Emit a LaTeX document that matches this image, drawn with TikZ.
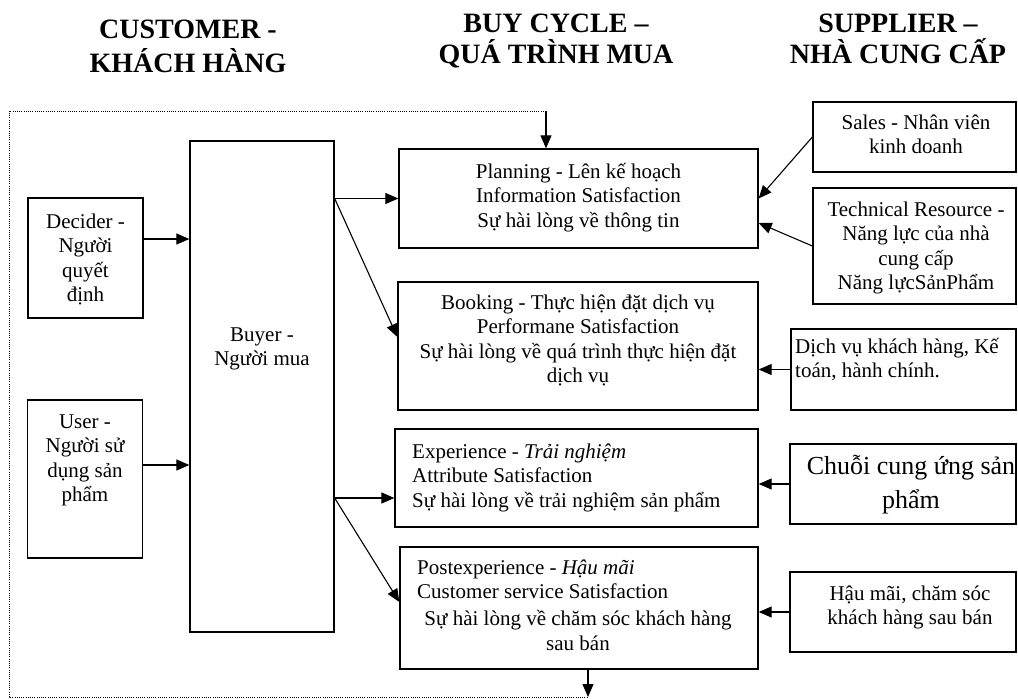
\documentclass[tikz,border=0pt]{standalone}
\usepackage{fontspec}
\setmainfont{Liberation Serif}
\usetikzlibrary{arrows.meta,calc}
\begin{document}
\begin{tikzpicture}[x=1pt,y=-1pt,
 box/.style={draw,line width=1.3pt,inner sep=0pt},
 arr/.style={line width=1.1pt,-{Triangle[length=13pt,width=11pt]}},
 txt/.style={inner sep=0pt,font=\fontsize{21}{24.5}\selectfont,align=center,anchor=base},
 ltxt/.style={inner sep=0pt,font=\fontsize{21}{24.5}\selectfont,align=left,anchor=base west},
 hdr/.style={inner sep=0pt,font=\fontsize{28}{31}\selectfont\bfseries,align=center,anchor=base},
 dots/.style={line width=1pt,dash pattern=on 1pt off 1.2pt}]
\useasboundingbox (0,0) rectangle (1018,699);

% boxes
\node[box,minimum width=115pt,minimum height=120pt] (decider) at (85.5,258) {};
\node[box,minimum width=115pt,minimum height=158pt] (user) at (85,479) {};
\node[box,minimum width=144pt,minimum height=491pt] (buyer) at (262,386.5) {};
\node[box,minimum width=359pt,minimum height=99pt] (planning) at (578.5,198.5) {};
\node[box,minimum width=360pt,minimum height=128pt] (booking) at (578,346) {};
\node[box,minimum width=363pt,minimum height=98pt] (exp) at (576.5,478) {};
\node[box,minimum width=358pt,minimum height=122pt] (post) at (579,608) {};
\node[box,minimum width=203pt,minimum height=70pt] (sales) at (914.5,137) {};
\node[box,minimum width=203pt,minimum height=116pt] (tech) at (914.5,246) {};
\node[box,minimum width=225pt,minimum height=81pt] (dichvu) at (903.5,369.5) {};
\node[box,minimum width=226pt,minimum height=80pt] (chuoi) at (903,484) {};
\node[box,minimum width=226pt,minimum height=80pt] (haumai) at (903,612) {};

% headers (anchor = baseline of last line)
\node[hdr,font=\fontsize{28}{34}\selectfont\bfseries] (h1) at (188,72) {CUSTOMER -\\KHÁCH HÀNG};
\node[hdr] (h2) at (556,63) {BUY CYCLE –\\QUÁ TRÌNH MUA};
\node[hdr] (h3) at (898,63) {SUPPLIER –\\NHÀ CUNG CẤP};

% texts (anchor = baseline of last line)
\node[txt] (tdecider) at (85.5,301.5) {Decider -\\Người\\quyết\\định};
\node[txt] (tuser) at (85,501.5) {User -\\Người sử\\dụng sản\\phẩm};
\node[txt] (tbuyer) at (262,365.5) {Buyer -\\Người mua};
\node[txt] (tplanning) at (578.5,227) {Planning - Lên kế hoạch\\Information Satisfaction\\Sự hài lòng về thông tin};
\node[txt] (tbooking) at (578,382.5) {Booking - Thực hiện đặt dịch vụ\\Performane Satisfaction\\Sự hài lòng về quá trình thực hiện đặt\\dịch vụ};
\node[ltxt] (texp) at (412,507) {Experience - \textit{Trải nghiệm}\\Attribute Satisfaction\\Sự hài lòng về trải nghiệm sản phẩm};
\node[ltxt] (tpost1) at (417,598.5) {Postexperience - \textit{Hậu mãi}\\Customer service Satisfaction};
\node[txt] (tpost2) at (578,650) {Sự hài lòng về chăm sóc khách hàng\\sau bán};
\node[txt] (tsales) at (916,153.5) {Sales - Nhân viên\\kinh doanh};
\node[txt] (ttech) at (916,289.5) {Technical Resource -\\Năng lực của nhà\\cung cấp\\Năng lựcSảnPhẩm};
\node[ltxt] (tdichvu) at (795,377.5) {Dịch vụ khách hàng, Kế\\toán, hành chính.};
\node[txt,font=\fontsize{26}{34}\selectfont] (tchuoi) at (911,508) {Chuỗi cung ứng sản\\phẩm};
\node[txt] (thaumai) at (910,624.5) {Hậu mãi, chăm sóc\\khách hàng sau bán};

% helper coordinates
\coordinate (dy) at (0,239);
\coordinate (uy) at (0,465);
\coordinate (by1) at (0,198.5);
\coordinate (by2) at (0,498);
\coordinate (bk) at (0,337);
\coordinate (pt) at (0,223);
\coordinate (pp) at (0,602);
\coordinate (top) at (546,111);
\coordinate (tl) at (9,111);
\coordinate (bl) at (9,697);
\coordinate (bot) at (588,697);

% connectors customer side
\draw[arr] (decider.east |- dy) -- (buyer.west |- dy);
\draw[arr] (user.east |- uy) -- (buyer.west |- uy);
\draw[arr] (buyer.east |- by1) -- (planning.west);
\draw[arr] (buyer.east |- by1) -- (booking.west |- bk);
\draw[arr] (buyer.east |- by2) -- (exp.west |- by2);
\draw[arr] (buyer.east |- by2) -- (post.west |- pp);

% supplier side
\draw[arr] (sales.west) -- (planning.east);
\draw[arr] (tech.west) -- (planning.east |- pt);
\draw[arr] (dichvu.west) -- (booking.east |- dichvu.west);
\draw[arr] (chuoi.west) -- (exp.east |- chuoi.west);
\draw[arr] (haumai.west) -- (post.east |- haumai.west);

% feedback loop
\draw[arr] (top) -- (top |- planning.north);
\draw[arr] (post.south -| bot) -- (bot);
\draw[dots] (top) -- (tl) -- (bl) -- (bot);
\end{tikzpicture}
\end{document}
